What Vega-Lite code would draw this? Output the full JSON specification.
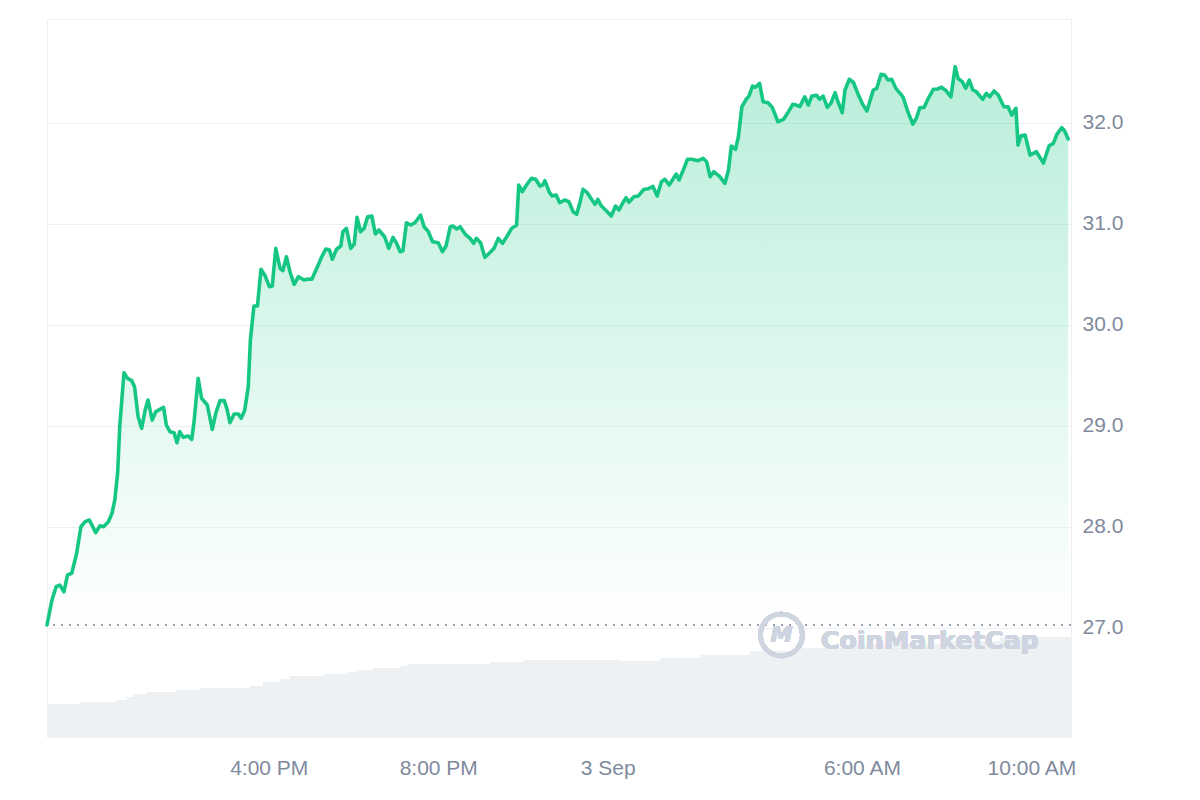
{
  "$schema": "https://vega.github.io/schema/vega-lite/v6.json",
  "autosize": {"type": "none"},
  "width": 1024,
  "height": 718,
  "padding": {"left": 47, "top": 19, "right": 129, "bottom": 63},
  "background": "#ffffff",
  "config": {"view": {"stroke": "#eceff3", "strokeWidth": 1}, "font": "Liberation Sans"},
  "resolve": {"scale": {"y": "independent"}},
  "layer": [
    {
      "data": {
        "format": {"parse": {"t": "utc:'%Y-%m-%d %H:%M'"}},
        "values": [
          {"t":"2024-09-02 10:46","v":16.5},{"t":"2024-09-02 11:33","v":17.5},{"t":"2024-09-02 12:25","v":18.5},
          {"t":"2024-09-02 12:39","v":20},{"t":"2024-09-02 12:48","v":21.5},{"t":"2024-09-02 13:07","v":22.5},
          {"t":"2024-09-02 13:50","v":23.5},{"t":"2024-09-02 14:23","v":24.5},{"t":"2024-09-02 15:33","v":25.5},
          {"t":"2024-09-02 15:52","v":27.5},{"t":"2024-09-02 16:16","v":29},{"t":"2024-09-02 16:30","v":30.5},
          {"t":"2024-09-02 17:17","v":31.5},{"t":"2024-09-02 17:51","v":32.5},{"t":"2024-09-02 18:05","v":33.5},
          {"t":"2024-09-02 18:28","v":34.5},{"t":"2024-09-02 19:06","v":35.5},{"t":"2024-09-02 19:16","v":36.5},
          {"t":"2024-09-02 21:13","v":37.5},{"t":"2024-09-02 22:00","v":38.5},{"t":"2024-09-03 00:17","v":38},
          {"t":"2024-09-03 01:14","v":39.5},{"t":"2024-09-03 02:11","v":41},{"t":"2024-09-03 03:21","v":43},
          {"t":"2024-09-03 04:32","v":44.5},{"t":"2024-09-03 05:43","v":46.5},{"t":"2024-09-03 08:05","v":48},
          {"t":"2024-09-03 09:15","v":50},{"t":"2024-09-03 10:56","v":50}
        ]
      },
      "mark": {"type": "area", "interpolate": "step-after", "color": "#eef1f4"},
      "encoding": {
        "x": {"field": "t", "type": "temporal", "scale": {"type": "utc", "domain": [{"year":2024,"month":9,"date":2,"hours":10,"minutes":46,"utc":true},{"year":2024,"month":9,"date":3,"hours":10,"minutes":56,"utc":true}]},
          "axis": {"values": [{"year":2024,"month":9,"date":2,"hours":16,"utc":true},{"year":2024,"month":9,"date":2,"hours":20,"utc":true},{"year":2024,"month":9,"date":3,"hours":0,"utc":true},{"year":2024,"month":9,"date":3,"hours":6,"utc":true},{"year":2024,"month":9,"date":3,"hours":10,"utc":true}],
            "labelExpr": "utchours(datum.value) == 0 ? utcFormat(datum.value, '%-d %b') : utcFormat(datum.value, '%-I:%M %p')",
            "title": null, "domain": false, "ticks": false, "grid": false, "labelPadding": 20, "labelFontSize": 21, "labelColor": "#808a9d", "labelFont": "Liberation Sans"}},
        "y": {"field": "v", "type": "quantitative", "scale": {"domain": [0, 359], "nice": false, "zero": true}, "axis": null}
      }
    },
    {
      "data": {
        "format": {"parse": {"t": "utc:'%Y-%m-%d %H:%M'"}},
        "values": [
          {"t":"2024-09-02 10:46","p":27.025},{"t":"2024-09-02 10:53","p":27.272},{"t":"2024-09-02 10:59","p":27.404},{"t":"2024-09-02 11:04","p":27.421},
          {"t":"2024-09-02 11:10","p":27.354},{"t":"2024-09-02 11:15","p":27.52},{"t":"2024-09-02 11:21","p":27.537},{"t":"2024-09-02 11:28","p":27.735},
          {"t":"2024-09-02 11:34","p":27.998},{"t":"2024-09-02 11:40","p":28.048},{"t":"2024-09-02 11:46","p":28.064},{"t":"2024-09-02 11:55","p":27.939},
          {"t":"2024-09-02 12:01","p":28.008},{"t":"2024-09-02 12:06","p":27.998},{"t":"2024-09-02 12:13","p":28.048},{"t":"2024-09-02 12:18","p":28.131},
          {"t":"2024-09-02 12:22","p":28.262},{"t":"2024-09-02 12:26","p":28.527},{"t":"2024-09-02 12:29","p":28.988},{"t":"2024-09-02 12:35","p":29.523},
          {"t":"2024-09-02 12:40","p":29.467},{"t":"2024-09-02 12:46","p":29.444},{"t":"2024-09-02 12:50","p":29.384},{"t":"2024-09-02 12:55","p":29.087},
          {"t":"2024-09-02 13:00","p":28.972},{"t":"2024-09-02 13:05","p":29.153},{"t":"2024-09-02 13:09","p":29.252},{"t":"2024-09-02 13:15","p":29.054},
          {"t":"2024-09-02 13:20","p":29.137},{"t":"2024-09-02 13:31","p":29.18},{"t":"2024-09-02 13:35","p":29.005},{"t":"2024-09-02 13:40","p":28.939},
          {"t":"2024-09-02 13:46","p":28.929},{"t":"2024-09-02 13:50","p":28.83},{"t":"2024-09-02 13:54","p":28.939},{"t":"2024-09-02 13:59","p":28.883},
          {"t":"2024-09-02 14:06","p":28.896},{"t":"2024-09-02 14:11","p":28.863},{"t":"2024-09-02 14:14","p":29.022},{"t":"2024-09-02 14:20","p":29.467},
          {"t":"2024-09-02 14:25","p":29.269},{"t":"2024-09-02 14:33","p":29.203},{"t":"2024-09-02 14:40","p":28.962},{"t":"2024-09-02 14:45","p":29.121},
          {"t":"2024-09-02 14:51","p":29.246},{"t":"2024-09-02 14:57","p":29.246},{"t":"2024-09-02 15:01","p":29.16},{"t":"2024-09-02 15:05","p":29.028},
          {"t":"2024-09-02 15:11","p":29.114},{"t":"2024-09-02 15:17","p":29.114},{"t":"2024-09-02 15:21","p":29.071},{"t":"2024-09-02 15:26","p":29.153},
          {"t":"2024-09-02 15:31","p":29.384},{"t":"2024-09-02 15:34","p":29.847},{"t":"2024-09-02 15:39","p":30.183},{"t":"2024-09-02 15:44","p":30.183},
          {"t":"2024-09-02 15:49","p":30.547},{"t":"2024-09-02 15:55","p":30.48},{"t":"2024-09-02 16:01","p":30.374},{"t":"2024-09-02 16:05","p":30.381},
          {"t":"2024-09-02 16:10","p":30.754},{"t":"2024-09-02 16:16","p":30.556},{"t":"2024-09-02 16:20","p":30.533},{"t":"2024-09-02 16:25","p":30.671},
          {"t":"2024-09-02 16:30","p":30.523},{"t":"2024-09-02 16:36","p":30.398},{"t":"2024-09-02 16:42","p":30.473},{"t":"2024-09-02 16:50","p":30.441},
          {"t":"2024-09-02 16:56","p":30.45},{"t":"2024-09-02 17:01","p":30.448},{"t":"2024-09-02 17:08","p":30.556},{"t":"2024-09-02 17:15","p":30.671},
          {"t":"2024-09-02 17:21","p":30.748},{"t":"2024-09-02 17:26","p":30.738},{"t":"2024-09-02 17:30","p":30.646},{"t":"2024-09-02 17:36","p":30.745},
          {"t":"2024-09-02 17:42","p":30.777},{"t":"2024-09-02 17:45","p":30.919},{"t":"2024-09-02 17:50","p":30.952},{"t":"2024-09-02 17:56","p":30.754},
          {"t":"2024-09-02 18:01","p":30.797},{"t":"2024-09-02 18:05","p":31.061},{"t":"2024-09-02 18:10","p":30.919},{"t":"2024-09-02 18:15","p":30.952},
          {"t":"2024-09-02 18:20","p":31.067},{"t":"2024-09-02 18:26","p":31.074},{"t":"2024-09-02 18:31","p":30.896},{"t":"2024-09-02 18:36","p":30.936},
          {"t":"2024-09-02 18:44","p":30.869},{"t":"2024-09-02 18:50","p":30.754},{"t":"2024-09-02 18:56","p":30.863},{"t":"2024-09-02 19:01","p":30.804},
          {"t":"2024-09-02 19:06","p":30.721},{"t":"2024-09-02 19:10","p":30.731},{"t":"2024-09-02 19:15","p":31.008},{"t":"2024-09-02 19:21","p":30.985},
          {"t":"2024-09-02 19:27","p":31.008},{"t":"2024-09-02 19:35","p":31.084},{"t":"2024-09-02 19:40","p":30.968},{"t":"2024-09-02 19:46","p":30.919},
          {"t":"2024-09-02 19:52","p":30.82},{"t":"2024-09-02 20:00","p":30.81},{"t":"2024-09-02 20:06","p":30.721},{"t":"2024-09-02 20:11","p":30.777},
          {"t":"2024-09-02 20:17","p":30.968},{"t":"2024-09-02 20:21","p":30.975},{"t":"2024-09-02 20:26","p":30.946},{"t":"2024-09-02 20:31","p":30.968},
          {"t":"2024-09-02 20:38","p":30.896},{"t":"2024-09-02 20:45","p":30.853},{"t":"2024-09-02 20:50","p":30.804},{"t":"2024-09-02 20:54","p":30.853},
          {"t":"2024-09-02 21:00","p":30.81},{"t":"2024-09-02 21:06","p":30.665},{"t":"2024-09-02 21:13","p":30.711},{"t":"2024-09-02 21:19","p":30.754},
          {"t":"2024-09-02 21:25","p":30.853},{"t":"2024-09-02 21:31","p":30.804},{"t":"2024-09-02 21:37","p":30.869},{"t":"2024-09-02 21:44","p":30.952},
          {"t":"2024-09-02 21:51","p":30.985},{"t":"2024-09-02 21:54","p":31.381},{"t":"2024-09-02 21:59","p":31.315},{"t":"2024-09-02 22:05","p":31.381},
          {"t":"2024-09-02 22:12","p":31.448},{"t":"2024-09-02 22:18","p":31.438},{"t":"2024-09-02 22:24","p":31.371},{"t":"2024-09-02 22:28","p":31.381},
          {"t":"2024-09-02 22:31","p":31.424},{"t":"2024-09-02 22:37","p":31.315},{"t":"2024-09-02 22:41","p":31.272},{"t":"2024-09-02 22:47","p":31.282},
          {"t":"2024-09-02 22:52","p":31.206},{"t":"2024-09-02 22:59","p":31.233},{"t":"2024-09-02 23:05","p":31.216},{"t":"2024-09-02 23:11","p":31.117},
          {"t":"2024-09-02 23:16","p":31.091},{"t":"2024-09-02 23:21","p":31.216},{"t":"2024-09-02 23:25","p":31.339},{"t":"2024-09-02 23:31","p":31.305},
          {"t":"2024-09-02 23:37","p":31.24},{"t":"2024-09-02 23:42","p":31.19},{"t":"2024-09-02 23:46","p":31.24},{"t":"2024-09-02 23:51","p":31.173},
          {"t":"2024-09-02 23:58","p":31.127},{"t":"2024-09-03 00:05","p":31.074},{"t":"2024-09-03 00:11","p":31.173},{"t":"2024-09-03 00:16","p":31.134},
          {"t":"2024-09-03 00:21","p":31.2},{"t":"2024-09-03 00:26","p":31.255},{"t":"2024-09-03 00:30","p":31.21},{"t":"2024-09-03 00:37","p":31.265},
          {"t":"2024-09-03 00:43","p":31.272},{"t":"2024-09-03 00:51","p":31.337},{"t":"2024-09-03 00:57","p":31.344},{"t":"2024-09-03 01:04","p":31.368},
          {"t":"2024-09-03 01:10","p":31.272},{"t":"2024-09-03 01:16","p":31.414},{"t":"2024-09-03 01:21","p":31.438},{"t":"2024-09-03 01:27","p":31.381},
          {"t":"2024-09-03 01:37","p":31.49},{"t":"2024-09-03 01:41","p":31.431},{"t":"2024-09-03 01:47","p":31.53},{"t":"2024-09-03 01:53","p":31.636},
          {"t":"2024-09-03 01:59","p":31.636},{"t":"2024-09-03 02:08","p":31.622},{"t":"2024-09-03 02:15","p":31.646},{"t":"2024-09-03 02:20","p":31.612},
          {"t":"2024-09-03 02:25","p":31.463},{"t":"2024-09-03 02:30","p":31.513},{"t":"2024-09-03 02:38","p":31.47},{"t":"2024-09-03 02:46","p":31.398},
          {"t":"2024-09-03 02:51","p":31.53},{"t":"2024-09-03 02:55","p":31.767},{"t":"2024-09-03 03:01","p":31.735},{"t":"2024-09-03 03:05","p":31.859},
          {"t":"2024-09-03 03:10","p":32.156},{"t":"2024-09-03 03:16","p":32.23},{"t":"2024-09-03 03:20","p":32.262},{"t":"2024-09-03 03:25","p":32.361},
          {"t":"2024-09-03 03:29","p":32.349},{"t":"2024-09-03 03:35","p":32.388},{"t":"2024-09-03 03:40","p":32.206},{"t":"2024-09-03 03:47","p":32.196},
          {"t":"2024-09-03 03:53","p":32.15},{"t":"2024-09-03 04:01","p":32.008},{"t":"2024-09-03 04:09","p":32.032},{"t":"2024-09-03 04:16","p":32.107},
          {"t":"2024-09-03 04:22","p":32.18},{"t":"2024-09-03 04:27","p":32.173},{"t":"2024-09-03 04:32","p":32.157},{"t":"2024-09-03 04:39","p":32.255},
          {"t":"2024-09-03 04:44","p":32.173},{"t":"2024-09-03 04:49","p":32.262},{"t":"2024-09-03 04:56","p":32.269},{"t":"2024-09-03 05:00","p":32.23},
          {"t":"2024-09-03 05:05","p":32.262},{"t":"2024-09-03 05:11","p":32.15},{"t":"2024-09-03 05:16","p":32.19},{"t":"2024-09-03 05:22","p":32.295},
          {"t":"2024-09-03 05:26","p":32.206},{"t":"2024-09-03 05:32","p":32.097},{"t":"2024-09-03 05:36","p":32.322},{"t":"2024-09-03 05:42","p":32.428},
          {"t":"2024-09-03 05:48","p":32.396},{"t":"2024-09-03 05:55","p":32.272},{"t":"2024-09-03 06:01","p":32.18},{"t":"2024-09-03 06:07","p":32.114},
          {"t":"2024-09-03 06:11","p":32.206},{"t":"2024-09-03 06:16","p":32.322},{"t":"2024-09-03 06:21","p":32.339},{"t":"2024-09-03 06:27","p":32.477},
          {"t":"2024-09-03 06:32","p":32.47},{"t":"2024-09-03 06:37","p":32.421},{"t":"2024-09-03 06:42","p":32.428},{"t":"2024-09-03 06:48","p":32.339},
          {"t":"2024-09-03 06:54","p":32.289},{"t":"2024-09-03 06:58","p":32.255},{"t":"2024-09-03 07:05","p":32.107},{"t":"2024-09-03 07:12","p":31.985},
          {"t":"2024-09-03 07:17","p":32.042},{"t":"2024-09-03 07:22","p":32.147},{"t":"2024-09-03 07:28","p":32.15},{"t":"2024-09-03 07:34","p":32.24},
          {"t":"2024-09-03 07:41","p":32.329},{"t":"2024-09-03 07:47","p":32.332},{"t":"2024-09-03 07:53","p":32.349},{"t":"2024-09-03 07:59","p":32.315},
          {"t":"2024-09-03 08:06","p":32.255},{"t":"2024-09-03 08:12","p":32.553},{"t":"2024-09-03 08:16","p":32.438},{"t":"2024-09-03 08:22","p":32.404},
          {"t":"2024-09-03 08:27","p":32.339},{"t":"2024-09-03 08:32","p":32.421},{"t":"2024-09-03 08:37","p":32.322},{"t":"2024-09-03 08:42","p":32.305},
          {"t":"2024-09-03 08:51","p":32.23},{"t":"2024-09-03 08:56","p":32.289},{"t":"2024-09-03 09:01","p":32.255},{"t":"2024-09-03 09:07","p":32.312},
          {"t":"2024-09-03 09:13","p":32.272},{"t":"2024-09-03 09:21","p":32.156},{"t":"2024-09-03 09:27","p":32.156},{"t":"2024-09-03 09:32","p":32.074},
          {"t":"2024-09-03 09:38","p":32.141},{"t":"2024-09-03 09:41","p":31.777},{"t":"2024-09-03 09:45","p":31.869},{"t":"2024-09-03 09:51","p":31.876},
          {"t":"2024-09-03 09:58","p":31.678},{"t":"2024-09-03 10:07","p":31.711},{"t":"2024-09-03 10:17","p":31.599},{"t":"2024-09-03 10:25","p":31.77},
          {"t":"2024-09-03 10:31","p":31.794},{"t":"2024-09-03 10:36","p":31.883},{"t":"2024-09-03 10:43","p":31.949},{"t":"2024-09-03 10:47","p":31.916},
          {"t":"2024-09-03 10:52","p":31.837}
        ]
      },
      "layer": [
        {
          "mark": {"type": "area", "fillOpacity": 0.3, "color": {"gradient": "linear", "x1": 0, "y1": 0, "x2": 0, "y2": 1, "stops": [{"offset": 0, "color": "#16c784"}, {"offset": 1, "color": "#ffffff"}]}},
          "encoding": {
            "x": {"field": "t", "type": "temporal"},
            "y": {"field": "p", "type": "quantitative", "scale": {"domain": [25.916, 33.025], "nice": false, "zero": false},
              "axis": {"orient": "right", "values": [27, 28, 29, 30, 31, 32], "format": ".1f", "title": null, "domain": false, "ticks": false,
                "grid": true, "gridColor": "#eceff3", "gridWidth": 1, "labelPadding": 11, "labelFontSize": 21, "labelColor": "#808a9d", "labelFont": "Liberation Sans"}},
            "y2": {"datum": 27.025}
          }
        },
        {
          "mark": {"type": "rule", "color": "#9aa1ad", "strokeWidth": 2, "strokeDash": [2, 6]},
          "encoding": {"y": {"datum": 27.025}}
        },
        {
          "mark": {"type": "line", "color": "#16c784", "strokeWidth": 3.6, "strokeJoin": "round", "strokeCap": "round"},
          "encoding": {
            "x": {"field": "t", "type": "temporal"},
            "y": {"field": "p", "type": "quantitative"}
          }
        },
        {
          "mark": {"type": "point", "shape": "circle", "filled": false, "size": 1750, "strokeWidth": 4.5, "color": "#cfd5e0", "opacity": 1},
          "encoding": {
            "x": {"datum": {"year":2024,"month":9,"date":3,"hours":4,"minutes":6,"utc":true}, "type": "temporal"},
            "y": {"datum": 26.926}
          }
        },
        {
          "mark": {"type": "text", "text": "M", "font": "DejaVu Sans", "fontWeight": "bold", "fontStyle": "italic", "fontSize": 22, "color": "#cfd5e0", "baseline": "middle", "align": "center"},
          "encoding": {
            "x": {"datum": {"year":2024,"month":9,"date":3,"hours":4,"minutes":6,"utc":true}, "type": "temporal"},
            "y": {"datum": 26.926}
          }
        },
        {
          "mark": {"type": "text", "text": "CoinMarketCap", "font": "DejaVu Sans", "fontWeight": "bold", "fontSize": 25.5, "color": "#cfd5e0", "baseline": "alphabetic", "align": "center"},
          "encoding": {
            "x": {"datum": {"year":2024,"month":9,"date":3,"hours":7,"minutes":36,"utc":true}, "type": "temporal"},
            "y": {"datum": 26.79}
          }
        }
      ]
    }
  ]
}
